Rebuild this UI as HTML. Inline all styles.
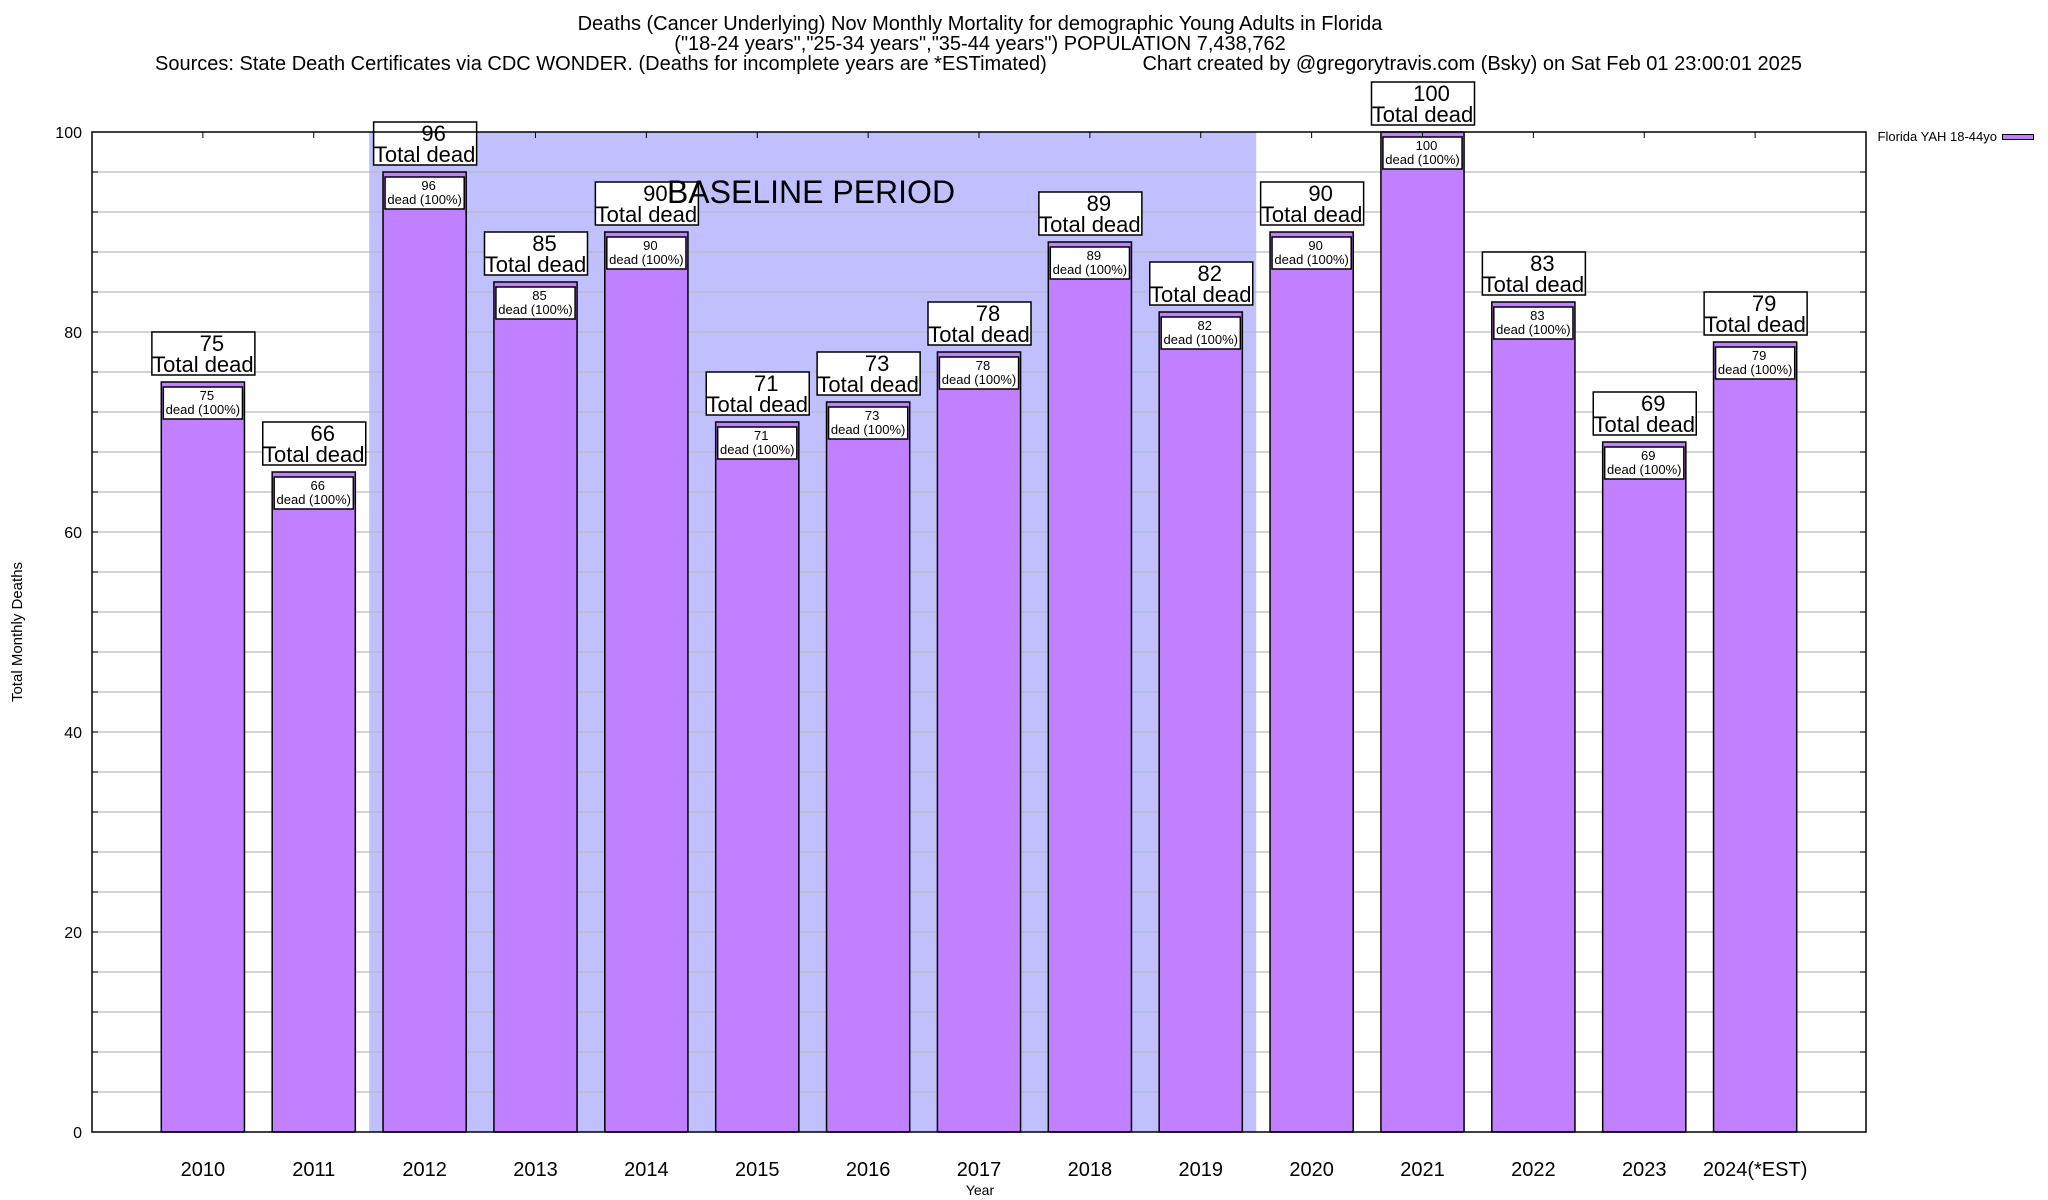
<!DOCTYPE html>
<html><head><meta charset="utf-8"><style>
html,body{margin:0;padding:0;background:#fff;}
svg{display:block;font-family:"Liberation Sans",Arial,sans-serif;}
</style></head><body>
<svg id="chart" width="2048" height="1200" viewBox="0 0 2048 1200" xmlns="http://www.w3.org/2000/svg">
<g font-size="20" text-anchor="middle">
<text x="980" y="30">Deaths (Cancer Underlying) Nov Monthly Mortality for demographic Young Adults in Florida</text>
<text x="980" y="50">("18-24 years","25-34 years","35-44 years") POPULATION 7,438,762</text>
<text x="155" y="70" text-anchor="start" xml:space="preserve">Sources: State Death Certificates via CDC WONDER. (Deaths for incomplete years are *ESTimated)</text>
<text x="1802" y="70" text-anchor="end">Chart created by @gregorytravis.com (Bsky) on Sat Feb 01 23:00:01 2025</text>
</g>
<g id="plot"></g>
<text transform="translate(22,632) rotate(-90)" font-size="15" text-anchor="middle">Total Monthly Deaths</text>
<text x="980" y="1195" font-size="14" text-anchor="middle">Year</text>
<g>
<text x="1997" y="141" font-size="13" text-anchor="end">Florida YAH 18-44yo</text>
<rect x="2002.5" y="134.5" width="31" height="5" fill="#c080ff" stroke="#000" stroke-width="1"/>
</g>
</svg>
<script>
const categories = ["2010","2011","2012","2013","2014","2015","2016","2017","2018","2019","2020","2021","2022","2023","2024(*EST)"];
const deaths = [75,66,96,85,90,71,73,78,89,82,90,100,83,69,79];
const yTicks = [0,20,40,60,80,100];
const baselineRange = [1.5,9.5];

const NS="http://www.w3.org/2000/svg";
const L=92,R=1866,T=132,B=1132;
const xMin=-1,xMax=15,yMin=0,yMax=100;
const xs=v=>L+(v-xMin)/(xMax-xMin)*(R-L);
const ys=v=>B-(v-yMin)/(yMax-yMin)*(B-T);
const plot=document.getElementById('plot');
function mk(tag,attrs,parent){const e=document.createElementNS(NS,tag);for(const k in attrs)e.setAttribute(k,attrs[k]);(parent||plot).appendChild(e);return e;}

const shade=mk('rect',{x:xs(baselineRange[0]),y:T,width:xs(baselineRange[1])-xs(baselineRange[0]),height:B-T,fill:'#c0c0ff'});



for(let v=4;v<100;v+=4){
  const g=mk('line',{x1:L,x2:R,y1:ys(v),y2:ys(v),stroke:'#b8b8b8','stroke-width':1.5,'stroke-opacity':0.8});
  
  
  const t1=mk('line',{x1:L,x2:L+6,y1:ys(v),y2:ys(v),stroke:'#000'});
  
  
  const t2=mk('line',{x1:R-6,x2:R,y1:ys(v),y2:ys(v),stroke:'#000'});
  
  
}
yTicks.forEach(v=>{
  const t=mk('text',{x:L-10,y:ys(v)+6,'font-size':16,'text-anchor':'end'});
  t.textContent=v;
  
  
});

const bl=mk('text',{x:811,y:203,'font-size':32,'text-anchor':'middle'});
bl.textContent='BASELINE PERIOD';



const bw=0.75;
categories.forEach((c,i)=>{
  const v=deaths[i];
  const x0=xs(i-bw/2),x1=xs(i+bw/2),cx=xs(i);
  const bar=mk('rect',{x:x0,y:ys(v),width:x1-x0,height:ys(0)-ys(v),fill:'#c080ff',stroke:'#000','stroke-width':1.5});
  
  
  const tk=mk('line',{x1:cx,x2:cx,y1:T,y2:T+6,stroke:'#000'});
  
  
  const by=ys(v)+5;
  const ib=mk('rect',{x:x0+2,y:by,width:x1-x0-4,height:32,fill:'#fff',stroke:'#000','stroke-width':1.5});
  
  
  const it1=mk('text',{x:cx+4,y:by+13,'font-size':13,'text-anchor':'middle'});
  it1.textContent=v;
  
  
  const it2=mk('text',{x:cx,y:by+27,'font-size':13,'text-anchor':'middle'});
  it2.textContent='dead (100%)';
  
  
  const oy=ys(v)-50;
  const ob=mk('rect',{x:cx-51,y:oy,width:103,height:43,fill:'#fff',stroke:'#000','stroke-width':1.5});
  
  
  const ot1=mk('text',{x:cx+9,y:oy+19,'font-size':22,'text-anchor':'middle'});
  ot1.textContent=v;
  
  
  const ot2=mk('text',{x:cx,y:oy+40,'font-size':22,'text-anchor':'middle'});
  ot2.textContent='Total dead';
  
  
  const xl=mk('text',{x:cx,y:1176,'font-size':20,'text-anchor':'middle'});
  xl.textContent=c;
  
  
});
plot.appendChild(bl);

const frame=mk('rect',{x:L,y:T,width:R-L,height:B-T,fill:'none',stroke:'#000','stroke-width':1.5});


</script>
</body></html>
